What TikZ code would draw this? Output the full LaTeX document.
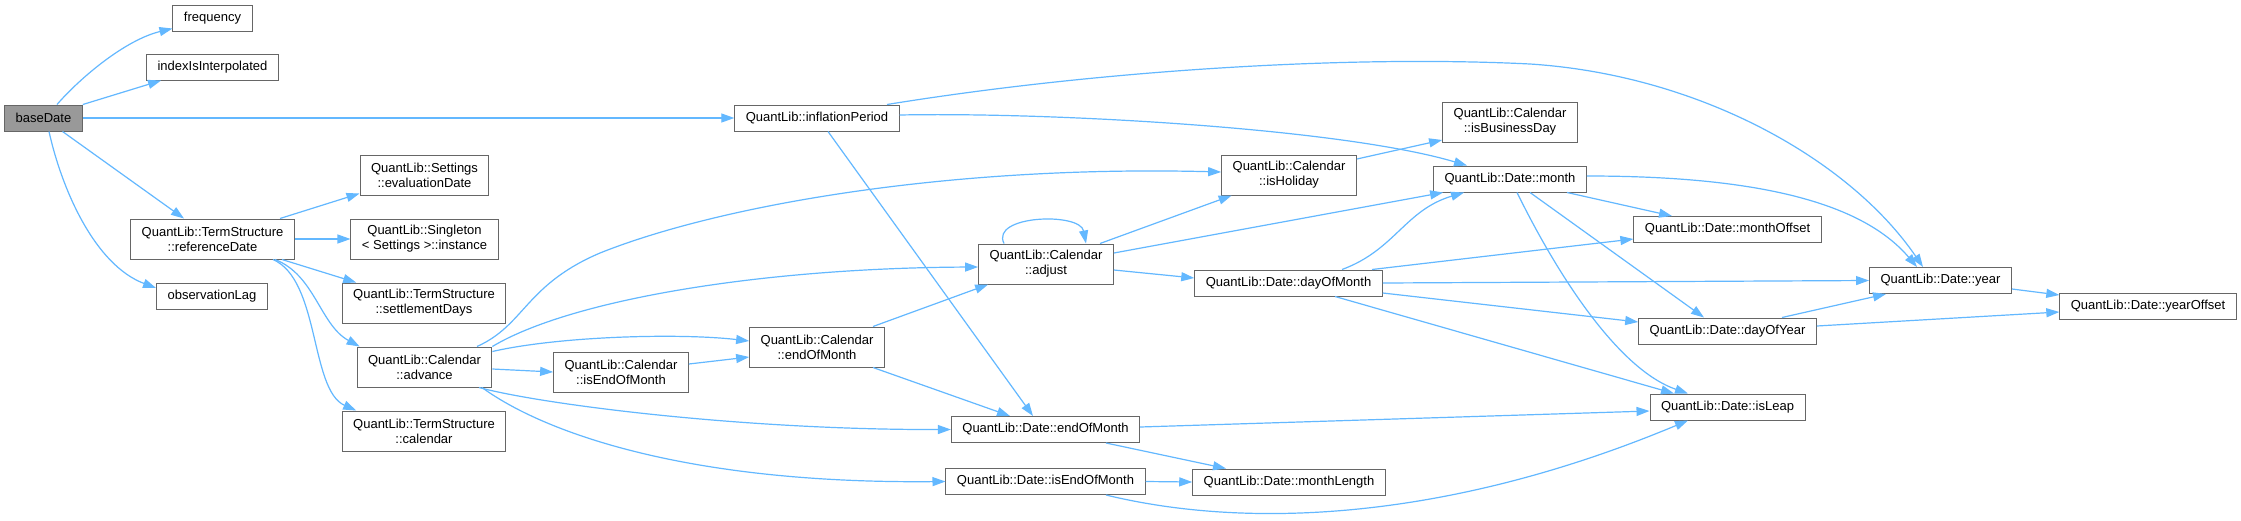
\documentclass[tikz,border=0pt]{standalone}
\usepackage{fontspec}
\setmainfont{Liberation Sans}
\usetikzlibrary{arrows.meta}

\definecolor{edgeblue}{HTML}{63B8FF}
\definecolor{boxline}{HTML}{666666}
\definecolor{rootgray}{HTML}{999999}

\begin{document}
\begin{tikzpicture}[
    x=1pt, y=-1pt,
    box/.style={rectangle, draw=boxline, line width=1pt, fill=white, inner xsep=11pt, inner ysep=2pt,
      minimum height=26pt, align=center, font=\fontsize{13}{15}\selectfont},
    box2/.style={box, minimum height=40pt},
    rootbox/.style={box, fill=rootgray},
    arrow/.style={draw=edgeblue, line width=1.2pt, -{Triangle[length=13pt, width=9pt]}}
  ]
    \useasboundingbox[fill=white] (0,0) rectangle (2241,520);

    % callers side
    \node[rootbox] (base) at (43.5,118) {baseDate};
    \node[box] (freq) at (212.5,18) {frequency};
    \node[box] (interp) at (212.5,67) {indexIsInterpolated};
    \node[box2] (refdate) at (212.5,239) {QuantLib::TermStructure\\::referenceDate};
    \node[box] (obslag) at (212,296) {observationLag};
    \node[box2] (evaldate) at (424.5,175) {QuantLib::Settings\\::evaluationDate};
    \node[box2] (instance) at (424.5,239) {QuantLib::Singleton\\< Settings >::instance};
    \node[box2] (settle) at (424,303) {QuantLib::TermStructure\\::settlementDays};
    \node[box2] (advance) at (424.5,367) {QuantLib::Calendar\\::advance};
    \node[box2] (tscal) at (424,431) {QuantLib::TermStructure\\::calendar};
    \node[box2] (calisEOM) at (621,372) {QuantLib::Calendar\\::isEndOfMonth};
    \node[box2] (calEOM) at (817,347) {QuantLib::Calendar\\::endOfMonth};
    \node[box] (infl) at (817,118) {QuantLib::inflationPeriod};
    \node[box2] (adjust) at (1046,264) {QuantLib::Calendar\\::adjust};
    \node[box] (dEOM) at (1045.5,429.5) {QuantLib::Date::endOfMonth};
    \node[box] (disEOM) at (1045.5,481.5) {QuantLib::Date::isEndOfMonth};
    \node[box2] (holiday) at (1289,175) {QuantLib::Calendar\\::isHoliday};
    \node[box] (dom) at (1288.5,283) {QuantLib::Date::dayOfMonth};
    \node[box] (mlen) at (1289,482) {QuantLib::Date::monthLength};
    \node[box2] (busday) at (1510,122) {QuantLib::Calendar\\::isBusinessDay};
    \node[box] (month) at (1510,179) {QuantLib::Date::month};
    \node[box] (moff) at (1727.5,229.5) {QuantLib::Date::monthOffset};
    \node[box] (doy) at (1727.5,331) {QuantLib::Date::dayOfYear};
    \node[box] (leap) at (1727.5,407) {QuantLib::Date::isLeap};
    \node[box] (year) at (1940.5,280.5) {QuantLib::Date::year};
    \node[box] (yoff) at (2148,306) {QuantLib::Date::yearOffset};

    % baseDate
    \draw[arrow] ([xshift=13.5pt]base.north) .. controls (80,78) and (125,40) .. ([yshift=3pt]freq.south west);
    \draw[arrow] (base.north east) -- ([xshift=15pt]interp.south west);
    \draw[arrow] (base.east) -- (infl.west);
    \draw[arrow] ([xshift=19pt]base.south) -- ([xshift=-28.5pt]refdate.north);
    \draw[arrow] ([xshift=5.5pt]base.south) .. controls (62,190) and (95,265) .. ([yshift=8pt]obslag.west);

    % referenceDate
    \draw[arrow] ([xshift=67.5pt]refdate.north) -- ([yshift=2pt]evaldate.south west);
    \draw[arrow] (refdate.east) -- (instance.west);
    \draw[arrow] ([xshift=69.5pt]refdate.south) -- ([xshift=14.5pt]settle.north west);
    \draw[arrow] ([xshift=62.5pt]refdate.south) .. controls (315,275) and (320,325) .. ([xshift=3pt]advance.north west);
    \draw[arrow] ([xshift=60.5pt]refdate.south) .. controls (320,280) and (310,390) .. ([xshift=14.5pt]tscal.north west);

    % advance
    \draw[arrow] ([xshift=52.5pt]advance.north) .. controls (525,325) and (525,285) .. (600,253)
      .. controls (720,205) and (950,165) .. ([yshift=3pt]holiday.west);
    \draw[arrow] (advance.north east) .. controls (570,300) and (760,268) .. ([yshift=-3pt]adjust.west);
    \draw[arrow] ([yshift=-5pt]advance.north east) .. controls (560,336) and (680,333) .. ([yshift=6pt]calEOM.west);
    \draw[arrow] ([yshift=-2pt]advance.east) -- (calisEOM.west);
    \draw[arrow] ([xshift=54.5pt]advance.south) .. controls (540,404) and (740,430) .. (dEOM.west);
    \draw[arrow] ([xshift=57.5pt]advance.south) .. controls (540,430) and (680,484) .. (disEOM.west);
    \draw[arrow] ([yshift=8pt]calisEOM.east) -- ([yshift=-10pt]calEOM.west);

    % Calendar::endOfMonth, inflationPeriod
    \draw[arrow] ([xshift=56pt]calEOM.north) -- ([xshift=10pt]adjust.south west);
    \draw[arrow] ([xshift=56pt]calEOM.south) -- ([xshift=-35.5pt]dEOM.north);
    \draw[arrow] ([xshift=11pt]infl.south) -- ([xshift=-12.5pt]dEOM.north);
    \draw[arrow] ([yshift=3pt]infl.east) .. controls (1050,112) and (1340,128) .. ([xshift=-43pt]month.north);
    \draw[arrow] ([xshift=70pt]infl.north) .. controls (1100,70) and (1350,55) .. (1530,64)
      .. controls (1700,75) and (1850,160) .. ([xshift=-17.5pt]year.north);

    % adjust
    \draw[arrow] ([xshift=-42pt]adjust.north) .. controls (990,215) and (1080,212) .. ([xshift=40pt]adjust.north);
    \draw[arrow] ([xshift=54pt]adjust.north) -- ([xshift=10.5pt]holiday.south west);
    \draw[arrow] ([yshift=11pt]adjust.east) -- ([xshift=10pt]month.south west);
    \draw[arrow] ([yshift=-6pt]adjust.east) -- ([yshift=5pt]dom.west);
    \draw[arrow] ([yshift=16pt]holiday.east) -- ([yshift=-18pt]busday.west);

    % dayOfMonth
    \draw[arrow] ([xshift=53.5pt]dom.north) .. controls (1395,250) and (1405,210) .. ([xshift=-46pt]month.south);
    \draw[arrow] ([xshift=83.5pt]dom.north) -- ([yshift=-9.5pt]moff.west);
    \draw[arrow] (dom.east) -- (year.west);
    \draw[arrow] ([yshift=-10pt]dom.east) -- ([yshift=9pt]doy.west);
    \draw[arrow] ([xshift=46.5pt]dom.south) -- ([xshift=-53.5pt]leap.north);

    % month
    \draw[arrow] ([xshift=57pt]month.south) -- ([xshift=-55.5pt]moff.north);
    \draw[arrow] ([yshift=3pt]month.east) .. controls (1750,176) and (1860,200) .. ([xshift=-23.5pt]year.north);
    \draw[arrow] ([xshift=20pt]month.south) -- ([xshift=-23.5pt]doy.north);
    \draw[arrow] ([xshift=7pt]month.south) .. controls (1560,280) and (1620,370) .. ([xshift=-39.5pt]leap.north);

    % dayOfYear, year
    \draw[arrow] ([xshift=54.5pt]doy.north) -- ([xshift=-54.5pt]year.south);
    \draw[arrow] ([yshift=5pt]doy.east) -- ([yshift=-6pt]yoff.west);
    \draw[arrow] ([yshift=-8.5pt]year.east) -- ([yshift=11pt]yoff.west);

    % Date::endOfMonth, Date::isEndOfMonth
    \draw[arrow] ([yshift=2.5pt]dEOM.east) -- ([yshift=-4pt]leap.west);
    \draw[arrow] ([xshift=60.5pt]dEOM.south) -- ([xshift=-63pt]mlen.north);
    \draw[arrow] (disEOM.east) -- (mlen.west);
    \draw[arrow] ([xshift=60.5pt]disEOM.south) .. controls (1250,530) and (1450,520) .. ([xshift=-39.5pt]leap.south);
\end{tikzpicture}
\end{document}
